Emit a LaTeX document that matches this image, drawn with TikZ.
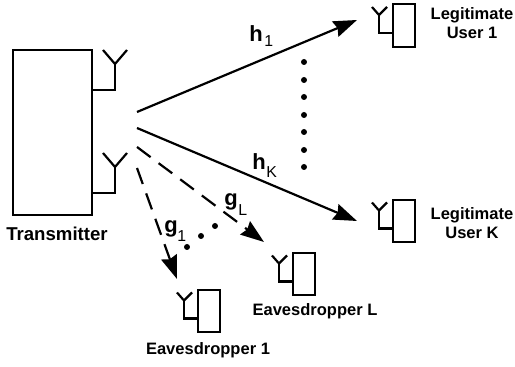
\documentclass[tikz,border=0pt]{standalone}
\usepackage{fontspec}
\setmainfont{Liberation Sans}
\usetikzlibrary{arrows.meta, calc}
\tikzset{
  wire/.style={line width=1.25pt, line join=miter},
  terminal/.style={draw, line width=1.25pt, minimum width=0.44cm, minimum height=0.85cm, inner sep=0pt, outer sep=0pt},
  caption/.style={font=\fontsize{9.4}{10.9}\selectfont\bfseries, align=center, inner sep=0pt},
  chan/.style={font=\fontsize{12.5}{14}\selectfont\bfseries, inner sep=0pt},
  sub/.style={font=\fontsize{9}{10}\selectfont, inner sep=0pt},
  link/.style={line width=1.25pt, -{Stealth[length=0.47cm, width=0.33cm, inset=0.05cm]}},
  dashlink/.style={link, dash pattern=on 0.34cm off 0.2cm},
  dot/.style={circle, fill, inner sep=0pt, minimum size=0.12cm}
}

\begin{document}
\begin{tikzpicture}[x=0.02cm, y=-0.02cm]
    \useasboundingbox (0,0) rectangle (515,367);

    \node[draw, line width=1.25pt, minimum width=1.58cm, minimum height=3.3cm, inner sep=0pt, outer sep=0pt] (tx) at (52.5,132.5) {};
    \foreach \y in {90,193} {
      \draw[wire] (tx.east |- 0,\y) -- ++(23,0) -- ++(0,-26) coordinate (stem);
      \draw[wire] ($(stem)+(-12,-14)$) -- (stem) -- ($(stem)+(12,-14)$);
    }

    % receivers
    \foreach \name/\x/\y in {userone/404/25.5, userk/404/221, eveL/304/274, eveone/209/311} {
      \node[terminal] (\name) at (\x,\y) {};
      \draw[wire] ($(\name.west)+(0,7.5)$) -- ++(-14,0) -- ++(0,-18) coordinate (stem);
      \draw[wire] ($(stem)+(-7,-8)$) -- (stem) -- ($(stem)+(8,-8)$);
    }

    \coordinate (h1s) at (137,112);
    \coordinate (h1e) at (357,20);
    \coordinate (hKs) at (137,128);
    \coordinate (hKe) at (357,221);
    \coordinate (gLs) at (137,147);
    \coordinate (gLe) at (264,242);
    \coordinate (g1s) at (137,168);
    \coordinate (g1e) at (177,279);
    \draw[link] (h1s) -- (h1e);
    \draw[link] (hKs) -- (hKe);
    \draw[dashlink] (gLs) -- (gLe);
    \draw[dashlink] (g1s) -- (g1e);

    \foreach \y in {62,80,97,115,132,150,167} {
      \node[dot] at (304,\y) {};
    }
    \foreach \x/\y in {187/247, 201/236, 215/226} {
      \node[dot] at (\x,\y) {};
    }

    \node[chan] (hone) at (256,34) {h};
    \node[sub, anchor=west] (honesub) at (264,41) {1};
    \node[chan] (hk) at (259,162) {h};
    \node[sub, anchor=west] (hksub) at (266,172) {K};
    \node[chan] (gl) at (231,202) {g};
    \node[sub, anchor=west] (glsub) at (238,210) {L};
    \node[chan] (gone) at (171,229) {g};
    \node[sub, anchor=west] (gonesub) at (177,236) {1};

    \node[caption, font=\fontsize{10.6}{12}\selectfont\bfseries] (txlabel) at (57,234) {Transmitter};
    \node[caption] (userolabel) at (472,23) {Legitimate\\User 1};
    \node[caption] (userklabel) at (472,223) {Legitimate\\User K};
    \node[caption] (evellabel) at (315,311) {Eavesdropper L};
    \node[caption] (eveolabel) at (208,350) {Eavesdropper 1};
\end{tikzpicture}
\end{document}
